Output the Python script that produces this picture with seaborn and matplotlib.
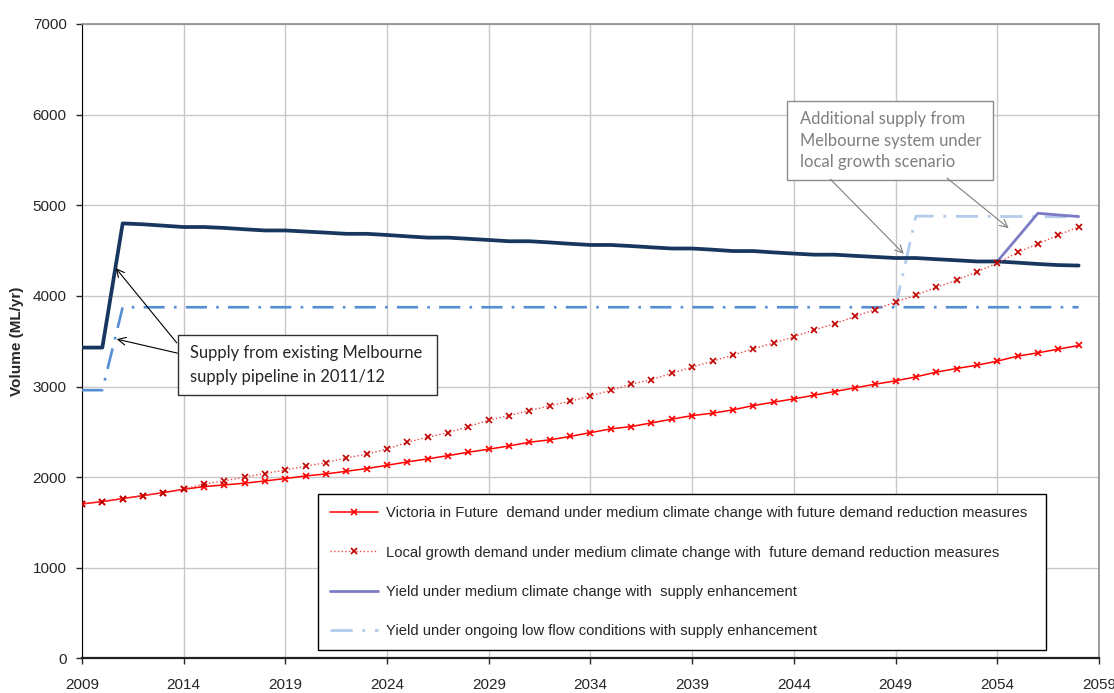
import numpy as np
import pandas as pd
import matplotlib.pyplot as plt
import seaborn as sns
from matplotlib.patches import Rectangle

# ---- data ----
years = list(range(2009, 2059))

# dark navy existing supply (not in legend)
existing_yield = [3430, 3430, 4800, 4790, 4775, 4760, 4760, 4750, 4735, 4722,
                  4722, 4710, 4698, 4685, 4685, 4672, 4657, 4643, 4643, 4630,
                  4617, 4603, 4603, 4590, 4575, 4562, 4562, 4550, 4536, 4523,
                  4523, 4510, 4495, 4495, 4480, 4467, 4455, 4455, 4442, 4430,
                  4418, 4418, 4405, 4393, 4380, 4380, 4367, 4352, 4340, 4335]

# medium blue dash-dot existing low flow supply (not in legend)
existing_low_flow = [2960, 2960] + [3875] * 48

vif_demand = [1705, 1731, 1764, 1797, 1830, 1867, 1896, 1915, 1934, 1959,
              1985, 2014, 2036, 2066, 2095, 2132, 2169, 2202, 2238, 2276,
              2309, 2345, 2386, 2412, 2450, 2492, 2533, 2559, 2599, 2640,
              2680, 2706, 2743, 2790, 2828, 2864, 2905, 2945, 2986, 3026,
              3063, 3107, 3159, 3199, 3236, 3280, 3336, 3372, 3413, 3453]

local_demand = [1705, 1731, 1764, 1797, 1830, 1867, 1926, 1959, 2003, 2040,
                2081, 2121, 2161, 2213, 2254, 2312, 2386, 2441, 2492, 2559,
                2629, 2680, 2735, 2787, 2838, 2897, 2960, 3026, 3077, 3148,
                3214, 3280, 3346, 3416, 3479, 3549, 3626, 3692, 3773, 3850,
                3932, 4009, 4093, 4174, 4266, 4362, 4479, 4575, 4671, 4763]

# supply enhancement series, only visible where they leave the base lines
yield_enh = [np.nan] * 45 + [4380, 4645, 4912, 4893, 4876]
low_flow_enh = [np.nan] * 40 + [3875, 4880, 4880, 4878, 4878, 4876, 4876, 4875, 4873, 4872]

labels = [
    "Victoria in Future  demand under medium climate change with future demand reduction measures",
    "Local growth demand under medium climate change with  future demand reduction measures",
    "Yield under medium climate change with  supply enhancement",
    "Yield under ongoing low flow conditions with supply enhancement",
]

def frame(vals):
    return pd.DataFrame({"year": years, "val": vals}).dropna()

sns.set_style("white")
plt.rcParams["font.family"] = ["Liberation Sans", "DejaVu Sans"]

fig = plt.figure(figsize=(11.14, 6.93), dpi=100)
ax = fig.add_axes([0.0736, 0.0498, 0.9129, 0.9156])

sns.lineplot(data=frame(low_flow_enh), x="year", y="val", ax=ax, color="#B3CBEA",
             lw=2.0, linestyle=(0, (8, 3.5, 1, 3.5)), label=labels[3], zorder=2)
sns.lineplot(data=frame(yield_enh), x="year", y="val", ax=ax, color="#7C7CC6",
             lw=2.0, label=labels[2], zorder=2)
sns.lineplot(data=frame(existing_low_flow), x="year", y="val", ax=ax, color="#558ED5",
             lw=1.9, linestyle=(0, (8, 3.5, 1, 3.5)), label="_nolegend_", zorder=3)
sns.lineplot(data=frame(existing_yield), x="year", y="val", ax=ax, color="#17375E",
             lw=2.7, label="_nolegend_", zorder=3)
sns.lineplot(data=frame(vif_demand), x="year", y="val", ax=ax, color="#FF0000",
             lw=1.1, marker="x", markersize=4, markeredgecolor="#FF0000",
             markeredgewidth=1.2, label=labels[0], zorder=4)
sns.lineplot(data=frame(local_demand), x="year", y="val", ax=ax, color="#F04848",
             lw=1.0, linestyle=":", marker="x", markersize=4, markeredgecolor="#C00000",
             markeredgewidth=1.2, label=labels[1], zorder=4)

ax.set_xlim(2009, 2059)
ax.set_ylim(0, 7000)
ax.set_xticks(range(2009, 2060, 5))
ax.set_yticks(range(0, 7001, 1000))
ax.grid(True, color="#C8C8C8", lw=1)
ax.set_axisbelow(True)
ax.tick_params(axis="x", direction="out", length=4, width=1, pad=10, labelsize=11)
ax.tick_params(axis="y", direction="out", length=4, width=1, pad=7, labelsize=11)
ax.tick_params(bottom=True, left=True)
ax.spines["left"].set_color("black")
ax.spines["bottom"].set_color("#202020")
ax.spines["bottom"].set_linewidth(1.6)
for s in ("top", "right"):
    ax.spines[s].set_color("#8C8C8C")
    ax.spines[s].set_linewidth(1.2)

ax.set_xlabel("")
ax.set_ylabel("Volume (ML/yr)", fontsize=11, fontweight="bold", labelpad=6)

# legend only with the four labelled series, in the reference order
handles, labs = ax.get_legend_handles_labels()
order = [labs.index(l) for l in labels]
leg = ax.legend([handles[i] for i in order], [labs[i] for i in order],
                loc="lower left", bbox_to_anchor=(0.232, 0.0134, 0.716, 0),
                mode="expand", fontsize=10.6,
                frameon=True, fancybox=False, edgecolor="black", framealpha=1,
                numpoints=1, handlelength=3.3, handletextpad=0.5,
                labelspacing=1.72, borderpad=0.8, borderaxespad=0)
leg.get_frame().set_linewidth(1.0)

# annotation box 1: existing pipeline
ax.add_patch(Rectangle((2013.72, 2908), 12.74, 663, facecolor="white",
                       edgecolor="#303030", lw=1.0, zorder=5))
ax.text(2014.3, 3235, "Supply from existing Melbourne\nsupply pipeline in 2011/12",
        fontsize=11.9, family=["Lato", "DejaVu Sans"], va="center", ha="left",
        linespacing=1.6, zorder=6)
arrow_k = dict(arrowstyle="->", color="black", lw=0.8, mutation_scale=14,
               shrinkA=0, shrinkB=0)
ax.annotate("", xy=(2010.66, 4307), xytext=(2013.66, 3482), arrowprops=arrow_k, zorder=6)
ax.annotate("", xy=(2010.71, 3523), xytext=(2013.69, 3369), arrowprops=arrow_k, zorder=6)

# annotation box 2: additional supply from Melbourne
ax.add_patch(Rectangle((2043.68, 5281), 10.13, 872, facecolor="white",
                       edgecolor="#8C8C8C", lw=1.0, zorder=5))
ax.text(2044.3, 5712, "Additional supply from\nMelbourne system under\nlocal growth scenario",
        fontsize=11.9, family=["Lato", "DejaVu Sans"], color="#7F7F7F",
        va="center", ha="left", linespacing=1.42, zorder=6)
arrow_g = dict(arrowstyle="->", color="#7F7F7F", lw=0.8, mutation_scale=14,
               shrinkA=0, shrinkB=0)
ax.annotate("", xy=(2049.40, 4465), xytext=(2045.79, 5289), arrowprops=arrow_g, zorder=6)
ax.annotate("", xy=(2054.56, 4748), xytext=(2051.53, 5300), arrowprops=arrow_g, zorder=6)

plt.savefig("out.png", dpi=100)
plt.close()
